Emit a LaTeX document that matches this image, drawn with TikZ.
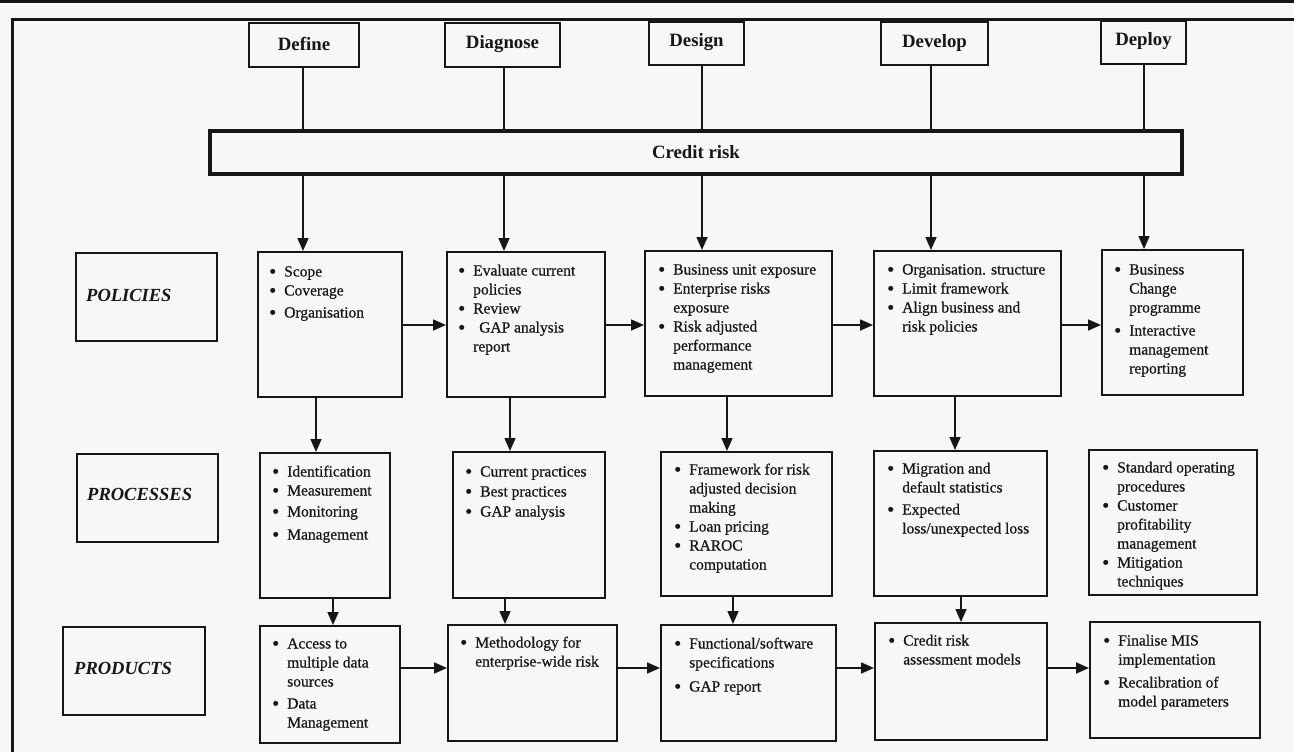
\documentclass[tikz,border=0pt]{standalone}
\usepackage{graphicx}
\usepackage{fontspec}
\setmainfont{Liberation Serif}
\newfontfamily\bodyfont{Liberation Serif}[FakeBold=0.6]
\usetikzlibrary{arrows.meta,calc,fit}
\definecolor{ink}{RGB}{22,22,22}
\definecolor{paper}{RGB}{247,247,245}
% bullet lists set as a two-column tabular: bullet | text
\newcommand{\bu}{\raisebox{-0.1em}{\scalebox{1.3}{\textbullet}}}
\newcommand{\blist}[1]{\begin{tabular}{@{}l@{\hspace{8pt}}l@{}}#1\end{tabular}}

\begin{document}
\begin{tikzpicture}[x=1pt,y=-1pt,
  pageframe/.style={draw=ink, line width=3pt},
  hbox/.style={draw=ink, line width=2pt, inner sep=0pt},
  cbox/.style={draw=ink, line width=2pt, inner sep=0pt},
  riskbar/.style={draw=ink, line width=4pt, inner sep=0pt},
  hd/.style={font=\fontsize{18.8}{22}\selectfont\bfseries, text=ink, inner sep=0pt},
  lbl/.style={font=\fontsize{18.5}{22}\selectfont\bfseries\itshape, text=ink, inner sep=0pt, anchor=west},
  bodytxt/.style={font=\bodyfont\fontsize{15.5}{19}\selectfont, text=ink, inner sep=0pt, anchor=north west},
  conn/.style={draw=ink, line width=1.6pt},
  arr/.style={conn, -{Triangle[length=13pt,width=11pt]}},
]
% page
\useasboundingbox (0,0) rectangle (1294,752);
\fill[paper] (0,0) rectangle (1294,752);
\fill[ink] (0,0) rectangle (1294,3);
\draw[pageframe] (1300,19.5) -- (12,19.5) -- (12,760);

% stage headings
\node[hbox, fit={(249,23) (359,67)}] (define) {};
\node[hd] (define-t) at ([yshift=1pt]define.center) {Define};
\node[hbox, fit={(445,23) (560,67)}] (diagnose) {};
\node[hd] (diagnose-t) at ([yshift=1pt]diagnose.center) {Diagnose};
\node[hbox, fit={(649,22) (744,65)}] (design) {};
\node[hd] (design-t) at ([yshift=1pt]design.center) {Design};
\node[hbox, fit={(881,22) (988,65)}] (develop) {};
\node[hd] (develop-t) at ([yshift=1pt]develop.center) {Develop};
\node[hbox, fit={(1101,21) (1186,64)}] (deploy) {};
\node[hd] (deploy-t) at ([yshift=1pt]deploy.center) {Deploy};

% credit risk bar
\node[riskbar, fit={(210,131) (1182,174)}] (credit) {};
\node[hd] (credit-t) at (696,152) {Credit risk};

% column and row guides
\coordinate (c1) at (303,0);
\coordinate (c2) at (504,0);
\coordinate (c3) at (702,0);
\coordinate (c4) at (931,0);
\coordinate (c5) at (1144,0);
\coordinate (d1) at (316,0);
\coordinate (d2) at (510,0);
\coordinate (d3) at (727,0);
\coordinate (d4) at (955,0);
\coordinate (e1) at (333,0);
\coordinate (e2) at (505,0);
\coordinate (e3) at (733,0);
\coordinate (e4) at (961,0);
\coordinate (r1) at (0,325);
\coordinate (r3) at (0,668);

% row labels
\node[cbox, fit={(76,253) (217,341)}] (polL) {};
\node[lbl] (polL-t) at ($(polL.west)+(11,-2)$) {POLICIES};
\node[cbox, fit={(77,454) (218,542)}] (procL) {};
\node[lbl] (procL-t) at ($(procL.west)+(11,-4)$) {PROCESSES};
\node[cbox, fit={(63,627) (205,715)}] (prodL) {};
\node[lbl] (prodL-t) at ($(prodL.west)+(12,-3)$) {PRODUCTS};

% policies row
\node[cbox, fit={(258,252) (402,397)}] (scope) {};
\node[bodytxt] (scope-t) at ($(scope.north west)+(12,12)$)
  {\blist{\bu & Scope\\ \bu & Coverage\\[3pt] \bu & Organisation}};
\node[cbox, fit={(447,252) (605,397)}] (evaluate) {};
\node[bodytxt] (evaluate-t) at ($(evaluate.north west)+(12,11)$)
  {\blist{\bu & Evaluate current\\ & policies\\ \bu & Review\\ \bu & \hspace{6pt}GAP analysis\\ & report}};
\node[cbox, fit={(645,251) (832,396)}] (business) {};
\node[bodytxt] (business-t) at ($(business.north west)+(14,11)$)
  {\blist{\bu & Business unit exposure\\ \bu & Enterprise risks\\ & exposure\\ \bu & Risk adjusted\\ & performance\\ & management}};
\node[cbox, fit={(874,251) (1061,396)}] (devpol) {};
\node[bodytxt] (devpol-t) at ($(devpol.north west)+(14,11)$)
  {\blist{\bu & Organisation. structure\\ \bu & Limit framework\\ \bu & Align business and\\ & risk policies}};
\node[cbox, fit={(1102,250) (1243,395)}] (deppol) {};
\node[bodytxt] (deppol-t) at ($(deppol.north west)+(13,12)$)
  {\blist{\bu & Business\\ & Change\\ & programme\\[4pt] \bu & Interactive\\ & management\\ & reporting}};

% processes row
\node[cbox, fit={(260,453) (390,598)}] (ident) {};
\node[bodytxt] (ident-t) at ($(ident.north west)+(13,11)$)
  {\blist{\bu & Identification\\ \bu & Measurement\\[2pt] \bu & Monitoring\\[4pt] \bu & Management}};
\node[cbox, fit={(453,452) (605,598)}] (current) {};
\node[bodytxt] (current-t) at ($(current.north west)+(13,12)$)
  {\blist{\bu & Current practices\\[1pt] \bu & Best practices\\[1pt] \bu & GAP analysis}};
\node[cbox, fit={(661,452) (832,596)}] (frame) {};
\node[bodytxt] (frame-t) at ($(frame.north west)+(14,10)$)
  {\blist{\bu & Framework for risk\\ & adjusted decision\\ & making\\ \bu & Loan pricing\\ \bu & RAROC\\ & computation}};
\node[cbox, fit={(874,451) (1047,596)}] (migr) {};
\node[bodytxt] (migr-t) at ($(migr.north west)+(14,10)$)
  {\blist{\bu & Migration and\\ & default statistics\\[3pt] \bu & Expected\\ & loss/unexpected loss}};
\node[cbox, fit={(1089,450) (1257,595)}] (stdop) {};
\node[bodytxt] (stdop-t) at ($(stdop.north west)+(14,10)$)
  {\blist{\bu & Standard operating\\ & procedures\\ \bu & Customer\\ & profitability\\ & management\\ \bu & Mitigation\\ & techniques}};

% products row
\node[cbox, fit={(260,626) (400,743)}] (access) {};
\node[bodytxt] (access-t) at ($(access.north west)+(13,10)$)
  {\blist{\bu & Access to\\ & multiple data\\ & sources\\[3pt] \bu & Data\\ & Management}};
\node[cbox, fit={(448,625) (617,741)}] (method) {};
\node[bodytxt] (method-t) at ($(method.north west)+(13,10)$)
  {\blist{\bu & Methodology for\\ & enterprise-wide risk}};
\node[cbox, fit={(661,625) (836,741)}] (func) {};
\node[bodytxt] (func-t) at ($(func.north west)+(14,11)$)
  {\blist{\bu & Functional/software\\ & specifications\\[5pt] \bu & GAP report}};
\node[cbox, fit={(875,623) (1047,740)}] (cra) {};
\node[bodytxt] (cra-t) at ($(cra.north west)+(14,10)$)
  {\blist{\bu & Credit risk\\ & assessment models}};
\node[cbox, fit={(1090,622) (1260,738)}] (final) {};
\node[bodytxt] (final-t) at ($(final.north west)+(14,11)$)
  {\blist{\bu & Finalise MIS\\ & implementation\\[4pt] \bu & Recalibration of\\ & model parameters}};

% stages into the credit risk bar
\draw[conn] (define.south -| c1) -- (c1 |- credit.north);
\draw[conn] (diagnose.south -| c2) -- (c2 |- credit.north);
\draw[conn] (design.south -| c3) -- (c3 |- credit.north);
\draw[conn] (develop.south -| c4) -- (c4 |- credit.north);
\draw[conn] (deploy.south -| c5) -- (c5 |- credit.north);

% credit risk bar down to the policies row
\draw[arr] (c1 |- credit.south) -- (c1 |- scope.north);
\draw[arr] (c2 |- credit.south) -- (c2 |- evaluate.north);
\draw[arr] (c3 |- credit.south) -- (c3 |- business.north);
\draw[arr] (c4 |- credit.south) -- (c4 |- devpol.north);
\draw[arr] (c5 |- credit.south) -- (c5 |- deppol.north);

% policies row, left to right
\draw[arr] (scope.east |- r1) -- (evaluate.west |- r1);
\draw[arr] (evaluate.east |- r1) -- (business.west |- r1);
\draw[arr] (business.east |- r1) -- (devpol.west |- r1);
\draw[arr] (devpol.east |- r1) -- (deppol.west |- r1);

% policies down to processes
\draw[arr] (d1 |- scope.south) -- (d1 |- ident.north);
\draw[arr] (d2 |- evaluate.south) -- (d2 |- current.north);
\draw[arr] (d3 |- business.south) -- (d3 |- frame.north);
\draw[arr] (d4 |- devpol.south) -- (d4 |- migr.north);

% processes down to products
\draw[arr] (e1 |- ident.south) -- (e1 |- access.north);
\draw[arr] (e2 |- current.south) -- (e2 |- method.north);
\draw[arr] (e3 |- frame.south) -- (e3 |- func.north);
\draw[arr] (e4 |- migr.south) -- (e4 |- cra.north);

% products row, left to right
\draw[arr] (access.east |- r3) -- (method.west |- r3);
\draw[arr] (method.east |- r3) -- (func.west |- r3);
\draw[arr] (func.east |- r3) -- (cra.west |- r3);
\draw[arr] (cra.east |- r3) -- (final.west |- r3);
\end{tikzpicture}
\end{document}
